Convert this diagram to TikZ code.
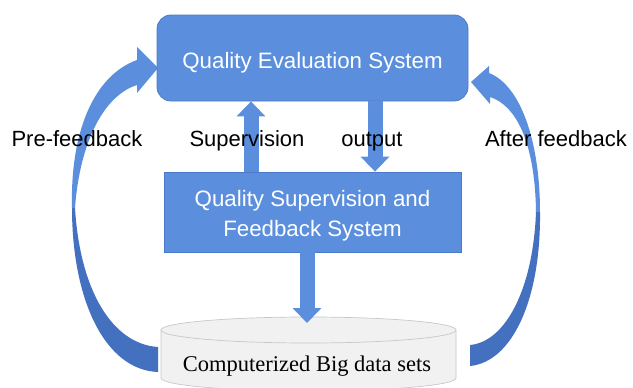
\documentclass[tikz,border=0pt]{standalone}
\usepackage{fontspec}
\setmainfont{Liberation Sans}
\newfontfamily\serifface{Liberation Serif}
\usetikzlibrary{arrows.meta,calc}
\definecolor{boxblue}{RGB}{91,143,221}
\definecolor{boxedge}{RGB}{74,122,200}
\definecolor{darkblue}{RGB}{68,112,192}
\definecolor{cylfill}{RGB}{241,241,241}
\definecolor{cyledge}{RGB}{200,200,200}
\begin{document}
\begin{tikzpicture}[x=1pt,y=-1pt,
  box/.style={draw=boxedge, line width=0.8pt, fill=boxblue, text=white,
    font=\fontsize{22.3}{30}\selectfont, align=center, inner sep=0pt},
  barrow/.style={draw=boxblue, line width=15pt, -{Triangle[length=15pt,width=28pt]}},
  lbl/.style={font=\fontsize{22}{26}\selectfont, anchor=base, inner sep=0pt},
  lightband/.style={fill=boxblue},
  darkband/.style={fill=darkblue}]
\useasboundingbox (0,0) rectangle (633,388);
\clip (0,0) rectangle (633,388);
\fill[white] (0,0) rectangle (633,388);

% left curved arrow (Pre-feedback)
\path[darkband] (72,208) .. controls (72,300) and (105,370) .. (158,372)
  -- (158,347) .. controls (112,344) and (80,290) .. (75,208) -- cycle;
\path[lightband] (137,60) -- (137,47) -- (158,68) -- (137,93) -- (137,85)
  .. controls (105,95) and (80,140) .. (75,208) -- (72,208)
  .. controls (70,130) and (95,75) .. (137,60) -- cycle;

% right curved arrow (After feedback)
\path[darkband] (540,212) .. controls (541,300) and (512,362) .. (470,366)
  -- (470,345) .. controls (505,342) and (533,290) .. (536,212) -- cycle;
\path[lightband] (489,73) -- (489,66) -- (471,82) -- (490,104) -- (490,97)
  .. controls (515,105) and (535,140) .. (536,212) -- (540,212)
  .. controls (540,140) and (520,85) .. (489,73) -- cycle;

% cylinder
\path[fill=cylfill, draw=cyledge, line width=0.7pt]
  (161,330) -- (161,378) .. controls (161,385.2) and (227,391) .. (308.5,391)
  .. controls (390,391) and (456,385.2) .. (456,378) -- (456,330)
  .. controls (456,322.8) and (390,317) .. (308.5,317)
  .. controls (227,317) and (161,322.8) .. (161,330) -- cycle;
\draw[cyledge, line width=0.7pt] (161,330) .. controls (161,337.2) and (227,343) .. (308.5,343)
  .. controls (390,343) and (456,337.2) .. (456,330);
\node[font=\serifface\fontsize{22.5}{26}\selectfont, anchor=base, inner sep=0pt] (db) at (307,371.5) {Computerized Big data sets};
\coordinate (dbtop) at (307,323);

% boxes
\node[box, rounded corners=14pt, minimum width=311pt, minimum height=86pt,
  text height=20pt, text depth=0pt] (qes) at (312.5,58) {Quality Evaluation System};
\node[box, minimum width=297pt, minimum height=80pt,
  text height=50pt, text depth=0.6pt] (qsf) at (312.5,212) {Quality Supervision and\\Feedback System};

% block arrows
\draw[barrow] ([xshift=-61.5pt]qsf.north) -- ([xshift=-61.5pt]qes.south);
\draw[barrow] ([xshift=62.5pt]qes.south) -- ([xshift=62.5pt]qsf.north);
\draw[barrow] ([xshift=-5.5pt]qsf.south) -- (dbtop);

% labels
\node[lbl] (pre) at (77,146) {Pre-feedback};
\node[lbl] (sup) at (247,146) {Supervision};
\node[lbl] (out) at (372,146) {output};
\node[lbl] (aft) at (556,146) {After feedback};
\end{tikzpicture}
\end{document}
